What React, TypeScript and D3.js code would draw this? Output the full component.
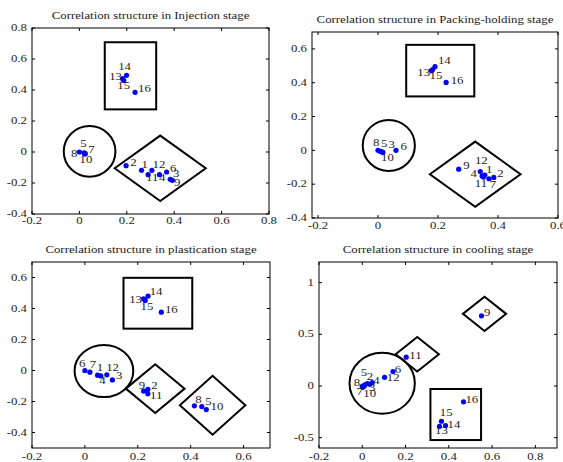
import React from 'react';
import * as d3 from 'd3';

// [label, x, y]
type Pt = [string, number, number];

// ---- Injection stage
const injectionPoints: Pt[] = [
  ['1', 0.262, -0.118], ['2', 0.197, -0.088], ['3', 0.383, -0.176], ['4', 0.338, -0.146],
  ['5', 0.02, -0.005], ['6', 0.368, -0.129], ['7', 0.025, -0.011], ['8', 0.0, 0.0],
  ['9', 0.392, -0.183], ['10', 0.022, -0.013], ['11', 0.29, -0.146], ['12', 0.306, -0.118],
  ['13', 0.182, 0.473], ['14', 0.199, 0.495], ['15', 0.187, 0.462], ['16', 0.235, 0.385],
];
const injectionGroups = [
  { type: 'rect', x0: 0.107, x1: 0.324, y0: 0.275, y1: 0.708 },
  { type: 'ellipse', cx: 0.043, cy: 0.004, rx: 0.109, ry: 0.163 },
  { type: 'diamond', cx: 0.341, cy: -0.105, hw: 0.192, hh: 0.211 },
];
const injectionXTicks = [-0.2, 0, 0.2, 0.4, 0.6, 0.8];
const injectionXLabels = ['-0.2', '0', '0.2', '0.4', '0.6', '0.8'];
const injectionYTicks = [-0.4, -0.2, 0, 0.2, 0.4, 0.6, 0.8];
const injectionYLabels = ['-0.4', '-0.2', '0', '0.2', '0.4', '0.6', '0.8'];

// ---- Packing-holding stage
const packingPoints: Pt[] = [
  ['1', 0.356, -0.147], ['2', 0.386, -0.16], ['3', 0.015, -0.01], ['4', 0.347, -0.152],
  ['5', 0.008, -0.006], ['6', 0.06, 0.0], ['7', 0.37, -0.168], ['8', 0.0, 0.0],
  ['9', 0.269, -0.111], ['10', 0.016, -0.012], ['11', 0.352, -0.158], ['12', 0.341, -0.125],
  ['13', 0.178, 0.471], ['14', 0.19, 0.495], ['15', 0.182, 0.478], ['16', 0.227, 0.402],
];
const packingGroups = [
  { type: 'rect', x0: 0.094, x1: 0.321, y0: 0.319, y1: 0.624 },
  { type: 'ellipse', cx: 0.036, cy: 0.029, rx: 0.087, ry: 0.151 },
  { type: 'diamond', cx: 0.324, cy: -0.141, hw: 0.151, hh: 0.193 },
];
const packingXTicks = [-0.2, 0, 0.2, 0.4, 0.6];
const packingXLabels = ['-0.2', '0', '0.2', '0.4', '0.6'];
const packingYTicks = [-0.4, -0.2, 0, 0.2, 0.4, 0.6];
const packingYLabels = ['-0.4', '-0.2', '0', '0.2', '0.4', '0.6'];

// ---- Plastication stage
const plasticationPoints: Pt[] = [
  ['1', 0.048, -0.03], ['2', 0.238, -0.122], ['3', 0.104, -0.061], ['4', 0.06, -0.035],
  ['5', 0.442, -0.233], ['6', 0.0, 0.0], ['7', 0.019, -0.011], ['8', 0.414, -0.228],
  ['9', 0.222, -0.133], ['10', 0.459, -0.252], ['11', 0.238, -0.15], ['12', 0.083, -0.028],
  ['13', 0.222, 0.463], ['14', 0.239, 0.48], ['15', 0.228, 0.452], ['16', 0.289, 0.376],
];
const plasticationGroups = [
  { type: 'rect', x0: 0.146, x1: 0.406, y0: 0.27, y1: 0.598 },
  { type: 'ellipse', cx: 0.072, cy: -0.003, rx: 0.111, ry: 0.168 },
  { type: 'diamond', cx: 0.266, cy: -0.117, hw: 0.111, hh: 0.157 },
  { type: 'diamond', cx: 0.483, cy: -0.224, hw: 0.124, hh: 0.19 },
];
const plasticationXTicks = [-0.2, 0, 0.2, 0.4, 0.6];
const plasticationXLabels = ['-0.2', '0', '0.2', '0.4', '0.6'];
const plasticationYTicks = [-0.4, -0.2, 0, 0.2, 0.4, 0.6];
const plasticationYLabels = ['-0.4', '-0.2', '0', '0.2', '0.4', '0.6'];

// ---- Cooling stage
const coolingPoints: Pt[] = [
  ['2', 0.023, 0.023], ['3', 0.035, 0.016], ['4', 0.046, 0.032], ['5', 0.011, 0.01],
  ['6', 0.142, 0.14], ['7', 0.002, -0.013], ['8', 0.0, -0.003], ['9', 0.551, 0.679],
  ['10', 0.008, -0.003], ['11', 0.203, 0.279], ['12', 0.103, 0.084], ['13', 0.357, -0.39],
  ['14', 0.385, -0.383], ['15', 0.366, -0.341], ['16', 0.468, -0.153],
];
const coolingGroups = [
  { type: 'diamond', cx: 0.565, cy: 0.698, hw: 0.1, hh: 0.166 },
  { type: 'diamond', cx: 0.254, cy: 0.308, hw: 0.1, hh: 0.167 },
  { type: 'ellipse', cx: 0.092, cy: 0.026, rx: 0.151, ry: 0.295 },
  { type: 'rect', x0: 0.315, x1: 0.549, y0: -0.523, y1: -0.029 },
];
const coolingXTicks = [-0.2, 0, 0.2, 0.4, 0.6, 0.8];
const coolingXLabels = ['-0.2', '0', '0.2', '0.4', '0.6', '0.8'];
const coolingYTicks = [-0.5, 0, 0.5, 1];
const coolingYLabels = ['-0.5', '0', '0.5', '1'];

// label offsets in px from the dot (dx, dy)
const injectionOffsets: Record<string, number[]> = {
  '1': [3.3, -5.3], '2': [7.3, -3], '3': [6, -5.3], '4': [2.7, 3.7], '5': [-0.7, -8.5],
  '6': [6.7, -3], '7': [6, -3.7], '8': [-5.3, 2], '9': [5, 2.3], '10': [1.3, 6.3],
  '11': [4, 3.7], '12': [7, -5.7], '13': [-7, -2], '14': [-2, -8.7], '15': [0, 5.3], '16': [9.3, -3],
};
const packingOffsets: Record<string, number[]> = {
  '1': [4.3, -5], '2': [6.7, -4], '3': [9.3, -6.7], '4': [-8.3, -2.3], '5': [3.7, -7.7],
  '6': [7.7, -3.3], '7': [4, 5.7], '8': [-1.7, -8], '9': [7.7, -3.3], '10': [4.7, 5],
  '11': [-2.7, 7], '12': [1, -10.7], '13': [-7.7, 1.7], '14': [9.3, -5.7], '15': [3.3, 6], '16': [11, -2],
};
const plasticationOffsets: Record<string, number[]> = {
  '1': [2.3, -7.7], '2': [6.7, -3.3], '3': [6.7, -3.7], '4': [1.7, 5.3], '5': [6.7, -4.3],
  '6': [-2.7, -7], '7': [3, -7], '8': [4, -6], '9': [-1.7, -5.7], '10': [10.7, -2.3],
  '11': [8.3, 1.7], '12': [5.7, -6.7], '13': [-8, 0.7], '14': [8, -4], '15': [1.7, 6.3], '16': [10, -2.3],
};
const coolingOffsets: Record<string, number[]> = {
  '2': [2.7, -6.7], '3': [2.3, 3.3], '4': [4.3, -1.7], '5': [-0.7, -12], '6': [5, -2],
  '7': [-3, 4.7], '8': [-5.3, -3.7], '9': [5.7, -2.7], '10': [5.7, 7.3], '11': [9.3, -1.7],
  '12': [8.7, 0.7], '13': [2, 5], '14': [8.3, -0.7], '15': [4.7, -8], '16': [8.3, -1.7],
};

const FONT = "'Liberation Serif','Times New Roman',serif";
const SX = 1.22;

function T({ x, y, anchor = 'middle', children, size = 10.5 }: any) {
  return (
    <text
      transform={`translate(${x},${y}) scale(${SX},1)`}
      textAnchor={anchor}
      dominantBaseline="central"
      fontSize={size}
      fontFamily={FONT}
      fill="#222"
    >
      {children}
    </text>
  );
}

function Panel(props: any) {
  const { title, points, offsets, groups, xDomain, yDomain, xTicks, xLabels, yTicks, yLabels, box, xGap } = props;
  const x = d3.scaleLinear().domain(xDomain).range([box.left, box.right]);
  const y = d3.scaleLinear().domain(yDomain).range([box.bottom, box.top]);
  const line = d3.line();
  const tk = 3;

  return (
    <g>
      <T x={(box.left + box.right) / 2} y={box.top - 12}>{title}</T>
      <rect x={box.left} y={box.top} width={box.right - box.left} height={box.bottom - box.top}
        fill="white" stroke="black" strokeWidth={1} />
      {xTicks.map((t: number, i: number) => (
        <g key={'x' + i}>
          <line x1={x(t)} x2={x(t)} y1={box.bottom} y2={box.bottom - tk} stroke="black" />
          <line x1={x(t)} x2={x(t)} y1={box.top} y2={box.top + tk} stroke="black" />
          <T x={x(t)} y={box.bottom + xGap}>{xLabels[i]}</T>
        </g>
      ))}
      {yTicks.map((t: number, i: number) => (
        <g key={'y' + i}>
          <line x1={box.left} x2={box.left + tk} y1={y(t)} y2={y(t)} stroke="black" />
          <line x1={box.right} x2={box.right - tk} y1={y(t)} y2={y(t)} stroke="black" />
          <T x={box.left - 5} y={y(t)} anchor="end">{yLabels[i]}</T>
        </g>
      ))}
      {groups.map((g: any, i: number) => {
        if (g.type === 'rect')
          return <rect key={'g' + i} x={x(g.x0)} y={y(g.y1)} width={x(g.x1) - x(g.x0)}
            height={y(g.y0) - y(g.y1)} fill="none" stroke="black" strokeWidth={2} />;
        if (g.type === 'ellipse')
          return <ellipse key={'g' + i} cx={x(g.cx)} cy={y(g.cy)} rx={x(g.cx + g.rx) - x(g.cx)}
            ry={y(g.cy) - y(g.cy + g.ry)} fill="none" stroke="black" strokeWidth={2} />;
        const pts: [number, number][] = [
          [x(g.cx - g.hw), y(g.cy)], [x(g.cx), y(g.cy + g.hh)],
          [x(g.cx + g.hw), y(g.cy)], [x(g.cx), y(g.cy - g.hh)],
        ];
        return <path key={'g' + i} d={line(pts) + 'Z'} fill="none" stroke="black" strokeWidth={2}
          strokeLinejoin="miter" />;
      })}
      {points.map((p: Pt) => (
        <circle key={'p' + p[0]} cx={x(p[1])} cy={y(p[2])} r={2.6} fill="#0000ff" />
      ))}
      {points.map((p: Pt) => {
        const o = offsets[p[0]] || [6, -3];
        return <T key={'l' + p[0]} x={x(p[1]) + o[0]} y={y(p[2]) + o[1]}>{p[0]}</T>;
      })}
    </g>
  );
}

export default function App() {
  return (
    <svg width={563} height={462} style={{ position: 'absolute', left: 0, top: 0, background: 'white' }}>
      <rect width={563} height={462} fill="white" />
      <Panel title="Correlation structure in Injection stage" points={injectionPoints}
        offsets={injectionOffsets} groups={injectionGroups} xDomain={[-0.2, 0.8]} yDomain={[-0.4, 0.8]}
        xTicks={injectionXTicks} xLabels={injectionXLabels} yTicks={injectionYTicks} yLabels={injectionYLabels}
        box={{ left: 32, right: 269, top: 28, bottom: 214 }} xGap={6.5} />
      <Panel title="Correlation structure in Packing-holding stage" points={packingPoints}
        offsets={packingOffsets} groups={packingGroups} xDomain={[-0.22, 0.6]} yDomain={[-0.4, 0.7]}
        xTicks={packingXTicks} xLabels={packingXLabels} yTicks={packingYTicks} yLabels={packingYLabels}
        box={{ left: 312, right: 558, top: 32, bottom: 218 }} xGap={8} />
      <Panel title="Correlation structure in plastication stage" points={plasticationPoints}
        offsets={plasticationOffsets} groups={plasticationGroups} xDomain={[-0.2, 0.7]} yDomain={[-0.5, 0.7]}
        xTicks={plasticationXTicks} xLabels={plasticationXLabels} yTicks={plasticationYTicks} yLabels={plasticationYLabels}
        box={{ left: 32, right: 270, top: 262, bottom: 448 }} xGap={9} />
      <Panel title="Correlation structure in cooling stage" points={coolingPoints}
        offsets={coolingOffsets} groups={coolingGroups} xDomain={[-0.2, 0.9]} yDomain={[-0.6, 1.2]}
        xTicks={coolingXTicks} xLabels={coolingXLabels} yTicks={coolingYTicks} yLabels={coolingYLabels}
        box={{ left: 319, right: 557, top: 262, bottom: 448 }} xGap={9} />
    </svg>
  );
}
